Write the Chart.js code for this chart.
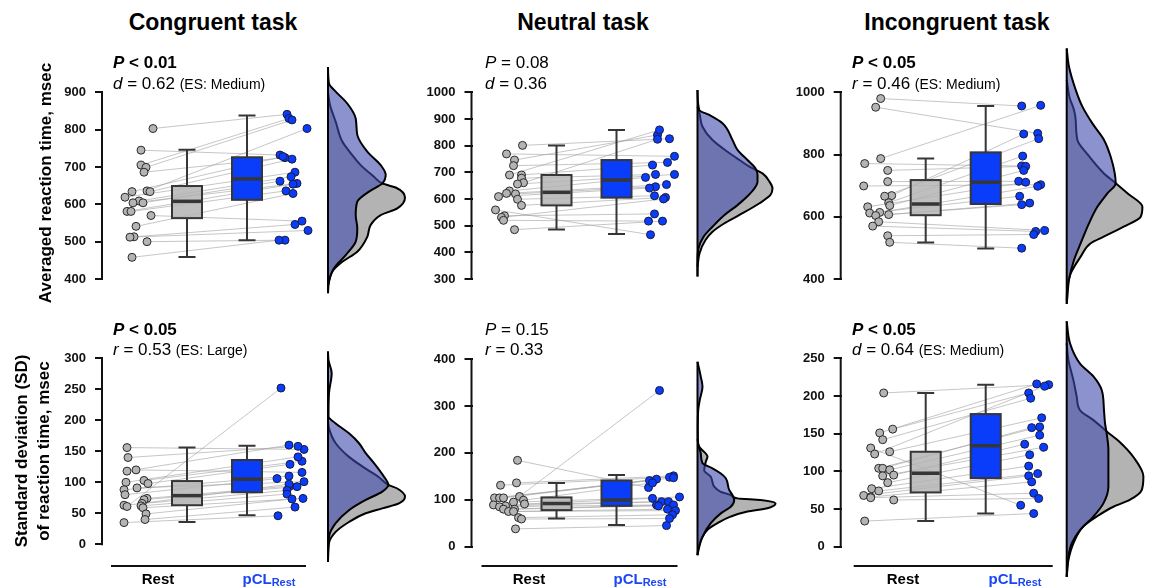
<!DOCTYPE html>
<html>
<head>
<meta charset="utf-8">
<script src="https://cdn.jsdelivr.net/npm/chart.js@4.4.1/dist/chart.umd.min.js"></script>
<style>
  body { margin: 0; width: 1155px; height: 588px; position: relative; overflow: hidden; background: #fff;
         font-family: 'Liberation Sans', Arial, Helvetica, sans-serif; color: #000; }
  canvas { position: absolute; }
  .title { position: absolute; top: 11px; font-weight: bold; font-size: 23px; line-height: 23px;
           transform: translateX(-50%); white-space: nowrap; }
  .stat { position: absolute; font-size: 17px; line-height: 20.5px; white-space: nowrap; }
  .stat small { font-size: 14px; }
  .ytitle { position: absolute; font-weight: bold; font-size: 17px; line-height: 22px; text-align: center;
            white-space: nowrap; transform: translate(-50%, -50%) rotate(-90deg); }
  .glabel { position: absolute; top: 571px; font-weight: bold; font-size: 15px; line-height: 15px;
            transform: translateX(-50%); white-space: nowrap; }
  .glabel.pcl { color: #1a47f5; }
  .glabel sub { font-size: 11px; line-height: 0; vertical-align: -2px; }
</style>
</head>
<body>

<div class="title" style="left:213px">Congruent task</div>
<div class="title" style="left:583px">Neutral task</div>
<div class="title" style="left:957px">Incongruent task</div>

<div class="ytitle" style="left:46px;top:183px">Averaged reaction time, msec</div>
<div class="ytitle" style="left:33px;top:451px">Standard deviation (SD)<br>of reaction time, msec</div>

<div class="stat" style="left:113px;top:53px"><b><i>P</i> &lt; 0.01</b><br><i>d</i> = 0.62 <small>(ES: Medium)</small></div>
<div class="stat" style="left:485px;top:53px"><i>P</i> = 0.08<br><i>d</i> = 0.36</div>
<div class="stat" style="left:852px;top:53px"><b><i>P</i> &lt; 0.05</b><br><i>r</i> = 0.46 <small>(ES: Medium)</small></div>
<div class="stat" style="left:113px;top:319.5px"><b><i>P</i> &lt; 0.05</b><br><i>r</i> = 0.53 <small>(ES: Large)</small></div>
<div class="stat" style="left:485px;top:319.5px"><i>P</i> = 0.15<br><i>r</i> = 0.33</div>
<div class="stat" style="left:852px;top:319.5px"><b><i>P</i> &lt; 0.05</b><br><i>d</i> = 0.64 <small>(ES: Medium)</small></div>

<div class="glabel" style="left:158px">Rest</div>
<div class="glabel pcl" style="left:269px">pCL<sub>Rest</sub></div>
<div class="glabel" style="left:529px">Rest</div>
<div class="glabel pcl" style="left:640px">pCL<sub>Rest</sub></div>
<div class="glabel" style="left:903px">Rest</div>
<div class="glabel pcl" style="left:1015px">pCL<sub>Rest</sub></div>

<script>
// ---- Congruent task, averaged RT (paired: index i of Rest goes with index i of pCL)
const congRtRest = [803, 745, 705, 699, 686, 636, 634, 634, 619, 609, 604, 604, 581, 581, 570, 541, 513, 512, 500, 458];
const congRtPcl  = [841, 732, 830, 826, 725, 803, 721, 728, 686, 674, 656, 662, 654, 636, 555, 629, 546, 530, 504, 504];
const congRtRestJit = [14, 2, 2, 7, 5, 8, 11, -7, -14, 0, -6, 4, -12, -8, 12, -3, -5, -9, 8, -7];
const congRtPclJit  = [-6, -13, -4, -1, -8, 14, -1, -10, 2, -2, 4, -13, 0, -7, 9, 0, 2, 15, -8, -14];
const congRtRestBox = [459, 563, 608, 649, 746]; // low whisker, Q1, median, Q3, high whisker
const congRtPclBox  = [504, 612, 668, 726, 838];
const congRtRestDensY = [900, 866, 821, 768, 732, 705, 674, 656, 645, 618, 589, 571, 545, 513, 473, 446, 420, 383];
const congRtRestDens  = [0, 2, 7.7, 14.3, 24.3, 32.7, 46, 54.3, 67.7, 77, 69.3, 52.7, 42.7, 39.3, 29.3, 14.3, 4.3, 0];
const congRtPclDensY = [968, 924, 902, 870, 830, 786, 741, 705, 679, 656, 634, 607, 571, 536, 500, 464, 429, 393, 362];
const congRtPclDens  = [0, 1, 7.7, 19.3, 27.7, 29.3, 39.3, 52.7, 57.7, 54.3, 41, 29.3, 27.7, 29.3, 27.7, 17.7, 6, 1, 0];
const congRtTicks = [400, 500, 600, 700, 800, 900];

// ---- Neutral task, averaged RT
const neutRtRest = [801, 769, 746, 725, 690, 690, 678, 661, 656, 630, 621, 619, 609, 599, 576, 559, 537, 531, 520, 485];
const neutRtPcl  = [826, 760, 840, 737, 859, 727, 692, 824, 692, 681, 654, 646, 641, 612, 606, 466, 544, 600, 517, 517];
const neutRtRestJit = [14, -2, 6, 5, 1, 13, 13, 15, 9, 1, -2, 7, -10, 9, 13, -13, -4, -7, -5, 6];
const neutRtPclJit  = [7, 12, -5, 5, -3, -10, -7, -5, 12, -17, 4, -7, -13, -8, 3, -12, -8, 1, -14, 0];
const neutRtRestBox = [486, 576, 625, 690, 801];
const neutRtPclBox  = [469, 605, 671, 746, 859];
const neutRtRestDensY = [946, 921, 871, 821, 777, 746, 721, 696, 665, 640, 615, 584, 540, 509, 477, 446, 396, 346];
const neutRtRestDens  = [0, 2, 5, 15, 30, 42, 52, 65, 72, 75, 73, 62, 42, 27, 15, 8, 2, 0];
const neutRtPclDensY = [1009, 934, 915, 884, 821, 784, 746, 715, 690, 665, 640, 610, 577, 540, 496, 458, 415, 365, 309];
const neutRtPclDens  = [0, 1.7, 11.7, 25, 35, 40, 50, 58, 60, 60, 57, 50, 40, 27, 15, 6, 1, 0, 0];
const neutRtTicks = [300, 400, 500, 600, 700, 800, 900, 1000];

// ---- Incongruent task, averaged RT
const incoRtRest = [980, 952, 787, 771, 749, 713, 699, 668, 666, 645, 636, 632, 614, 612, 607, 604, 584, 570, 539, 518];
const incoRtPcl  = [956, 868, 958, 763, 762, 714, 703, 866, 851, 795, 749, 711, 698, 666, 644, 639, 556, 553, 543, 499];
const incoRtRestJit = [3, -2, 3, -13, 10, 10, -14, 14, 7, 11, 12, -10, 2, -8, 11, -2, 1, -5, 10, 12];
const incoRtPclJit  = [-10, 6, 9, -10, -6, -13, 9, -8, 7, -9, -8, -6, 6, -12, -2, -10, 13, 4, 2, -10];
const incoRtRestBox = [517, 605, 641, 718, 787];
const incoRtPclBox  = [498, 641, 711, 807, 956];
const incoRtRestDensY = [1040, 982, 943, 911, 847, 804, 740, 708, 675, 632, 600, 568, 536, 515, 472, 418, 375, 330];
const incoRtRestDens  = [0, 3, 7.3, 9, 10.7, 20, 37, 49, 61, 75.7, 74, 57, 37, 24, 14, 4, 0.7, 0];
const incoRtPclDensY = [1141, 1082, 1008, 954, 900, 847, 793, 740, 708, 675, 632, 579, 515, 461, 397, 343, 320];
const incoRtPclDens  = [0, 2.3, 9, 15.7, 25.7, 37.3, 44, 48, 49, 40.7, 30.7, 22.3, 14, 7.3, 2.3, 0.7, 0];
const incoRtTicks = [400, 600, 800, 1000];

// ---- Congruent task, SD of RT
const congSdRest = [156, 140, 120, 118, 103, 100, 98, 91, 88, 80, 74, 72, 66, 63, 62, 61, 59, 49, 40, 35];
const congSdPcl  = [153, 158, 116, 160, 134, 141, 129, 101, 110, 106, 94, 93, 97, 87, 81, 252, 74, 73, 60, 46];
const congSdRestJit = [-12, -11, -3, -12, 5, -13, 9, -2, -15, -14, 8, 5, 3, -15, 2, -12, 4, 7, 6, -15];
const congSdPclJit  = [11, 5, 9, -4, 9, 5, -3, 11, -4, -16, -3, 4, -4, -6, -6, -12, 10, -1, 2, -15];
const congSdRestBox = [36, 63, 78.5, 102, 156];
const congSdPclBox  = [47, 84, 105, 136, 159];
const congSdRestDensY = [200, 187, 163, 141, 122, 109, 96, 90, 77, 66, 58, 50, 36, 20, 2, -28];
const congSdRestDens  = [0, 1, 7.7, 21, 37.7, 50.3, 60.3, 69.3, 77, 71, 54.3, 37.7, 21, 7.7, 1, 0];
const congSdPclDensY = [311, 297, 276, 244, 206, 195, 179, 163, 147, 131, 109, 96, 85, 71.5, 55, 34, 12, -28];
const congSdPclDens  = [0, 0.5, 3.7, 1, 0.5, 7.7, 21, 31, 37.7, 46, 56, 60.3, 54.3, 37.7, 21, 7.7, 1, 0];
const congSdTicks = [0, 50, 100, 150, 200, 250, 300];

// ---- Neutral task, SD of RT
const neutSdRest = [184, 136, 131, 107, 104, 104, 104, 99, 95, 91, 89, 87, 85, 80, 80, 75, 75, 62, 59, 38];
const neutSdPcl  = [126, 151, 148, 333, 147, 144, 141, 136, 106, 103, 96, 96, 89, 89, 87, 80, 77, 68, 60, 45];
const neutSdRestJit = [9, 8, -8, 11, -14, -9, -5, 15, 5, 16, -15, -3, -9, -5, 6, 0, 5, 10, 13, 7];
const neutSdPclJit  = [-14, 11, 7, -3, 11, -6, -13, -10, 17, -10, -1, 6, -6, 11, -4, 5, 13, 10, 7, 4];
const neutSdRestBox = [60, 78, 92, 105, 136];
const neutSdPclBox  = [46, 87, 99.5, 141, 153];
const neutSdRestDensY = [230, 213, 192, 181, 163, 149, 128, 117, 110, 103, 99.5, 92, 82, 75, 64, 50, 36, 14, -7, -18];
const neutSdRestDens  = [0, 1.7, 10, 8.3, 6.7, 13.3, 16.7, 23.3, 33.3, 40, 63, 78, 70, 50, 33, 20, 10, 3.3, 0.7, 0];
const neutSdPclDensY = [394, 362, 341, 313, 291, 250, 220, 199, 178, 167, 156, 146, 121, 110, 99.5, 85, 71, 50, 21, -7, -18];
const neutSdPclDens  = [0, 3.3, 5, 2.3, 0.7, 0.3, 0.5, 3.3, 5, 15, 23.3, 28.3, 31.7, 35, 36.7, 33.3, 23.3, 13.3, 5, 1, 0];
const neutSdTicks = [0, 100, 200, 300, 400];

// ---- Incongruent task, SD of RT
const incoSdRest = [204, 156, 151, 142, 131, 126, 123, 104, 104, 102, 95, 94, 85, 77, 74, 68, 66, 65, 62, 34];
const incoSdPcl  = [215, 204, 216, 197, 55, 171, 213, 159, 158, 148, 136, 132, 122, 107, 97, 94, 86, 71, 64, 44];
const incoSdRestJit = [6, 15, 2, 5, -7, 12, -3, 1, 5, 12, 16, 5, 10, -6, 1, -14, -7, -7, 16, -13];
const incoSdPclJit  = [17, -3, 5, -1, -11, 10, 13, 8, 0, 8, -7, 12, -2, -3, 6, -3, 0, 2, 7, 2];
const incoSdRestBox = [34, 72, 97.5, 126, 204];
const incoSdPclBox  = [44, 91, 134, 176, 215];
const incoSdRestDensY = [270, 248, 221, 199, 181, 168, 153, 139, 119, 93, 75, 62, 53, 40, 27, 4.4, -18, -40];
const incoSdRestDens  = [0, 1.7, 6.7, 10, 13.3, 26.7, 40, 53, 66.7, 76.7, 75, 63, 46.7, 30, 16.7, 6.7, 1.7, 0];
const incoSdPclDensY = [299, 270, 243, 226, 208, 181, 164, 150, 128, 106, 80, 57.5, 40, 22, 4.4, -13, -40];
const incoSdPclDens  = [0, 3.3, 13.3, 26.7, 35, 37.3, 38.3, 40, 41.7, 41.7, 41.7, 36.7, 26.7, 13.3, 5, 1.7, 0];
const incoSdTicks = [0, 50, 100, 150, 200, 250];

// x positions inside a panel (x scale units = px from the y axis)
const REST_X = 36, PCL_X = 190, REST_BOX_X = 84, PCL_BOX_X = 144, DENS_X = 225;
const FONT = "'Liberation Sans', Arial, Helvetica, sans-serif";

const panels = [
  { x: 0,   y: 40,  w: 410, h: 272, axisX: 103,   pxTop: 92.3,  pxBottom: 279,   ticks: congRtTicks,
    rest: congRtRest, pcl: congRtPcl, restJit: congRtRestJit, pclJit: congRtPclJit, restBox: congRtRestBox, pclBox: congRtPclBox,
    restDensY: congRtRestDensY, restDens: congRtRestDens, pclDensY: congRtPclDensY, pclDens: congRtPclDens },
  { x: 410, y: 40,  w: 380, h: 272, axisX: 472.5, pxTop: 92.3,  pxBottom: 279,   ticks: neutRtTicks,
    rest: neutRtRest, pcl: neutRtPcl, restJit: neutRtRestJit, pclJit: neutRtPclJit, restBox: neutRtRestBox, pclBox: neutRtPclBox,
    restDensY: neutRtRestDensY, restDens: neutRtRestDens, pclDensY: neutRtPclDensY, pclDens: neutRtPclDens },
  { x: 790, y: 40,  w: 365, h: 272, axisX: 841.7, pxTop: 92.3,  pxBottom: 279,   ticks: incoRtTicks,
    rest: incoRtRest, pcl: incoRtPcl, restJit: incoRtRestJit, pclJit: incoRtPclJit, restBox: incoRtRestBox, pclBox: incoRtPclBox,
    restDensY: incoRtRestDensY, restDens: incoRtRestDens, pclDensY: incoRtPclDensY, pclDens: incoRtPclDens },
  { x: 0,   y: 316, w: 410, h: 272, axisX: 103,   pxTop: 358.3, pxBottom: 544.3, ticks: congSdTicks, xLine: [8, 203],
    rest: congSdRest, pcl: congSdPcl, restJit: congSdRestJit, pclJit: congSdPclJit, restBox: congSdRestBox, pclBox: congSdPclBox,
    restDensY: congSdRestDensY, restDens: congSdRestDens, pclDensY: congSdPclDensY, pclDens: congSdPclDens },
  { x: 410, y: 316, w: 380, h: 272, axisX: 472.5, pxTop: 359,   pxBottom: 546.7, ticks: neutSdTicks, xLine: [9, 205],
    rest: neutSdRest, pcl: neutSdPcl, restJit: neutSdRestJit, pclJit: neutSdPclJit, restBox: neutSdRestBox, pclBox: neutSdPclBox,
    restDensY: neutSdRestDensY, restDens: neutSdRestDens, pclDensY: neutSdPclDensY, pclDens: neutSdPclDens },
  { x: 790, y: 316, w: 365, h: 272, axisX: 841.7, pxTop: 358.3, pxBottom: 546.7, ticks: incoSdTicks, xLine: [12, 211],
    rest: incoSdRest, pcl: incoSdPcl, restJit: incoSdRestJit, pclJit: incoSdPclJit, restBox: incoSdRestBox, pclBox: incoSdPclBox,
    restDensY: incoSdRestDensY, restDens: incoSdRestDens, pclDensY: incoSdPclDensY, pclDens: incoSdPclDens }
];

function drawBox(ctx, cx, ys, stats, fill) {
  const [lo, q1, md, q3, hi] = stats.map(v => ys.getPixelForValue(v));
  ctx.save();
  ctx.strokeStyle = '#363636';
  ctx.lineWidth = 2;
  ctx.beginPath();
  ctx.moveTo(cx, lo); ctx.lineTo(cx, q1);
  ctx.moveTo(cx, q3); ctx.lineTo(cx, hi);
  ctx.moveTo(cx - 8.5, lo); ctx.lineTo(cx + 8.5, lo);
  ctx.moveTo(cx - 8.5, hi); ctx.lineTo(cx + 8.5, hi);
  ctx.stroke();
  ctx.fillStyle = fill;
  ctx.fillRect(cx - 15, q3, 30, q1 - q3);
  ctx.strokeRect(cx - 15, q3, 30, q1 - q3);
  ctx.lineWidth = 3.5;
  ctx.beginPath();
  ctx.moveTo(cx - 14, md); ctx.lineTo(cx + 14, md);
  ctx.stroke();
  ctx.restore();
}

// boxes go between the paired lines and the points; axis lines drawn by hand
const rainPlugin = {
  id: 'rain',
  beforeDatasetDraw(chart, args, opts) {
    if (args.index !== 1) return;
    const xs = chart.scales.x, ys = chart.scales.y;
    drawBox(chart.ctx, xs.getPixelForValue(REST_BOX_X), ys, opts.restBox, 'rgba(180,180,180,0.85)');
    drawBox(chart.ctx, xs.getPixelForValue(PCL_BOX_X), ys, opts.pclBox, '#0a3dfa');
  },
  afterDraw(chart, args, opts) {
    const ctx = chart.ctx, ys = chart.scales.y, xs = chart.scales.x;
    const ax = chart.chartArea.left - 1;
    ctx.save();
    ctx.strokeStyle = '#111';
    ctx.lineWidth = 2;
    ctx.beginPath();
    ctx.moveTo(ax, ys.getPixelForValue(opts.ticks[opts.ticks.length - 1]) - 1);
    ctx.lineTo(ax, ys.getPixelForValue(opts.ticks[0]) + 1);
    if (opts.xLine) {
      const ly = opts.xLineY;
      ctx.moveTo(xs.getPixelForValue(opts.xLine[0]), ly);
      ctx.lineTo(xs.getPixelForValue(opts.xLine[1]), ly);
    }
    ctx.stroke();
    ctx.restore();
  }
};

function buildPanel(p) {
  const canvas = document.createElement('canvas');
  canvas.width = p.w;
  canvas.height = p.h;
  canvas.style.left = p.x + 'px';
  canvas.style.top = p.y + 'px';
  document.body.insertBefore(canvas, document.body.firstChild);

  const axisW = p.axisX - p.x;
  const areaW = p.w - axisW;
  const tMin = p.ticks[0], tMax = p.ticks[p.ticks.length - 1];
  const u = (tMax - tMin) / (p.pxBottom - p.pxTop);
  const yMax = tMax + (p.pxTop - p.y) * u;
  const yMin = tMin - (p.y + p.h - p.pxBottom) * u;

  const datasets = [];
  datasets.push({
    label: 'Rest', xAxisID: 'x',
    data: p.rest.map((v, i) => ({ x: REST_X + p.restJit[i], y: v })),
    backgroundColor: '#b4b4b4', borderColor: '#2a2a2a', borderWidth: 1, pointRadius: 4
  });
  datasets.push({
    label: 'pCL', xAxisID: 'x',
    data: p.pcl.map((v, i) => ({ x: PCL_X + p.pclJit[i], y: v })),
    backgroundColor: '#0a3dfa', borderColor: '#1a1a40', borderWidth: 1, pointRadius: 4
  });
  p.rest.forEach((v, i) => {
    datasets.push({
      type: 'line', xAxisID: 'x',
      data: [{ x: REST_X + p.restJit[i], y: v }, { x: PCL_X + p.pclJit[i], y: p.pcl[i] }],
      borderColor: 'rgba(160,160,160,0.6)', borderWidth: 1, pointRadius: 0, fill: false
    });
  });
  const top = Math.max(p.restDensY[0], p.pclDensY[0]);
  const bottom = Math.min(p.restDensY[p.restDensY.length - 1], p.pclDensY[p.pclDensY.length - 1]);
  datasets.push({
    type: 'line', xAxisID: 'xd',
    data: [{ x: 0, y: top }, { x: 0, y: bottom }],
    borderColor: '#000', borderWidth: 2, pointRadius: 0, fill: false
  });
  datasets.push({
    type: 'line', xAxisID: 'xd', indexAxis: 'y',
    data: p.pclDensY.map((y, i) => ({ x: p.pclDens[i], y })),
    borderColor: '#000', borderWidth: 2, pointRadius: 0,
    backgroundColor: 'rgba(63,73,173,0.6)', fill: 'origin', cubicInterpolationMode: 'monotone'
  });
  datasets.push({
    type: 'line', xAxisID: 'xd', indexAxis: 'y',
    data: p.restDensY.map((y, i) => ({ x: p.restDens[i], y })),
    borderColor: '#000', borderWidth: 2, pointRadius: 0,
    backgroundColor: '#b3b3b3', fill: 'origin', cubicInterpolationMode: 'monotone'
  });

  return new Chart(canvas, {
    type: 'scatter',
    data: { datasets },
    plugins: [rainPlugin],
    options: {
      responsive: false,
      animation: false,
      events: [],
      layout: { padding: 0, autoPadding: false },
      scales: {
        x: { type: 'linear', min: 0, max: areaW, display: false },
        xd: { type: 'linear', axis: 'x', min: -DENS_X, max: areaW - DENS_X, display: false },
        y: {
          type: 'linear', min: yMin, max: yMax,
          afterBuildTicks: s => { s.ticks = p.ticks.map(v => ({ value: v })); },
          afterFit: s => { s.width = axisW; s.paddingTop = 0; s.paddingBottom = 0; },
          border: { display: false },
          grid: { drawOnChartArea: false, drawTicks: true, tickLength: 8, color: '#111', lineWidth: 2 },
          ticks: { font: { family: FONT, size: 13, weight: 'bold' }, color: '#111', padding: 9, autoSkip: false,
                   callback: v => String(v) }
        }
      },
      plugins: {
        legend: { display: false },
        tooltip: { enabled: false },
        rain: { restBox: p.restBox, pclBox: p.pclBox, ticks: p.ticks, xLine: p.xLine, xLineY: 566 - p.y }
      }
    }
  });
}

panels.forEach(buildPanel);
</script>
</body>
</html>
